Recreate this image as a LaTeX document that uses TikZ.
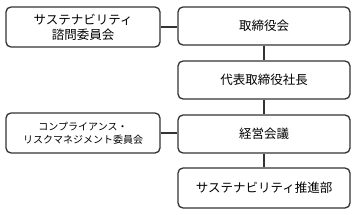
\documentclass[tikz,border=0pt]{standalone}
\usepackage{fontspec}
\newfontfamily\jpfont{Noto Sans CJK JP}
\usepackage{tikz}

\tikzset{
  orgbox/.style={draw=black!80, line width=1.3pt, rounded corners=5pt, fill=white,
    align=center, inner sep=0pt, font=\jpfont\fontsize{12.5}{15}\selectfont},
  mainbox/.style={orgbox, minimum width=172pt, minimum height=38pt},
  sidebox/.style={orgbox, minimum width=154pt, minimum height=40pt},
  link/.style={draw=black!80, line width=1.3pt}
}

\begin{document}
\begin{tikzpicture}[x=1pt, y=-1pt]
                \useasboundingbox (0,0) rectangle (355,214);

                % main column
                \node[mainbox] (board) at (264,26) {取締役会};
                \node[mainbox] (ceo) at (264,80) {代表取締役社長};
                \node[mainbox] (mgmt) at (264,134) {経営会議};
                \node[mainbox, minimum height=40pt] (promo) at (264,188) {サステナビリティ推進部};

                % committees
                \node[sidebox] (advisory) at (83,27) {サステナビリティ\\諮問委員会};
                \node[sidebox, font=\jpfont\fontsize{10}{13}\selectfont] (risk) at (83,133) {コンプライアンス・\\リスクマネジメント委員会};

                % connectors
                \draw[link] (board) -- (ceo);
                \draw[link] (ceo) -- (mgmt);
                \draw[link] (mgmt) -- (promo);
                \draw[link] (advisory.east) -- (advisory.east -| board.west);
                \draw[link] (risk.east) -- (risk.east -| mgmt.west);
\end{tikzpicture}
\end{document}
